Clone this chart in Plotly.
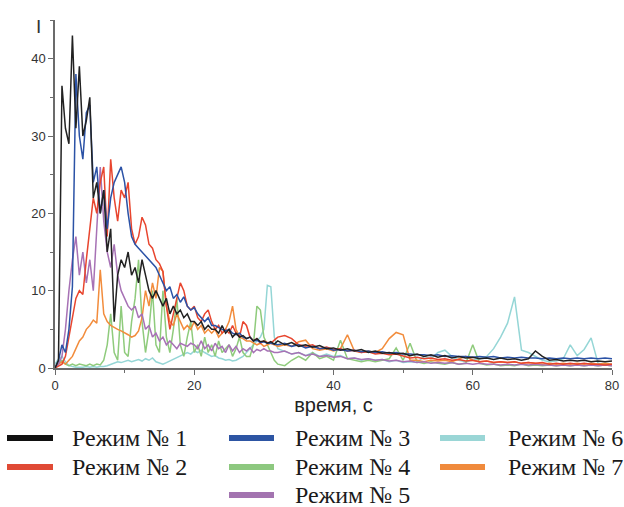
import plotly.graph_objects as go

# time grid: 0..32 s every 0.5 s, then 33..80 s every 1 s
TIME = [i * 0.5 for i in range(65)] + list(range(33, 81))

NAMES = ["Режим № 1", "Режим № 2", "Режим № 3", "Режим № 4",
         "Режим № 5", "Режим № 6", "Режим № 7"]

MODE1 = [0, 1, 36.5, 31, 29, 43, 31, 39, 30, 32,
         35, 22, 24, 20, 23, 15, 18, 6, 12, 14,
         13, 15, 12, 13, 11, 14, 12, 10, 9, 10,
         9, 8, 9, 7, 8, 7, 7.5, 6.5, 7, 6,
         6, 5.5, 6, 5, 5.5, 5, 5, 4.5, 5.5, 4.5,
         5, 4, 4.5, 4, 4.2, 3.8, 4, 3.5, 3.8, 3.4,
         3.5, 3.2, 3.4, 3.1, 3.5,
         3, 3.3, 2.8, 3, 2.7, 2.9, 2.5, 2.6, 2.3, 2.5,
         2.2, 2.4, 2, 2.2, 1.9, 2, 1.8, 1.9, 1.6, 1.8,
         1.5, 1.7, 1.4, 1.6, 1.3, 1.5, 1.3, 1.4, 1.2, 1.3,
         1.1, 1.3, 1.1, 1.2, 1, 1.2, 2.2, 1.5, 1, 1.1,
         0.9, 1, 0.9, 1, 0.8, 0.9, 0.8, 0.9]

MODE2 = [0, 0.3, 0.5, 1.5, 4, 7, 9, 10, 9.5, 14,
         18, 22, 20, 24, 26, 17, 27, 22, 19, 23,
         22, 24, 18, 16, 17, 19.5, 18.5, 16, 15.5, 14,
         13.5, 12.5, 8, 5, 7, 9, 11, 10, 8, 7.5,
         8, 6.5, 6, 7, 7.5, 6, 5, 5.5, 4.5, 5,
         4.5, 5.5, 4.5, 4, 6, 5.5, 4, 3.5, 3.8, 3.2,
         3.5, 3.3, 3.2, 3.6, 4,
         4.2, 3.8, 3, 2.8, 3, 2.5, 2.7, 2.4, 2.5, 2.2,
         2.3, 2, 2.1, 1.8, 1.9, 1.7, 1.8, 1.5, 1.3, 1.4,
         1.2, 1.3, 1.1, 1.2, 1, 1.1, 0.9, 1, 0.8, 0.9,
         0.7, 0.8, 0.7, 0.8, 0.6, 0.7, 0.6, 0.7, 0.5, 0.6,
         0.5, 0.6, 0.5, 0.6, 0.5, 0.5, 0.4, 0.5]

MODE3 = [0, 1, 3, 2, 5, 10.5, 38, 30, 27, 33,
         34, 24, 26, 20, 23, 18, 22, 24, 25, 26,
         24, 20, 17, 16, 15.5, 15, 14.5, 14, 13.5, 13,
         12, 11, 10, 10.5, 9, 9.5, 8.5, 9.2, 8, 7.5,
         7.8, 7, 6.5, 6, 6.5, 5.5, 5.5, 5.2, 5, 4.8,
         5, 4.5, 4.3, 4.5, 4, 3.8, 4, 3.5, 3.6, 3.3,
         3.4, 3.2, 3.2, 3.1, 3,
         3.2, 2.8, 3, 2.6, 2.8, 2.5, 2.6, 2.3, 2.4, 2.2,
         2.3, 2.1, 2.2, 2, 2.1, 1.9, 2, 1.8, 1.8, 1.7,
         1.7, 1.6, 1.7, 1.5, 1.6, 1.5, 1.5, 1.4, 1.5, 1.4,
         1.5, 1.3, 1.4, 1.3, 1.4, 1.3, 1.3, 1.2, 1.3, 1.2,
         1.3, 1.2, 1.3, 1.2, 1.3, 1.2, 1.3, 1.2]

MODE4 = [0, 0.5, 1, 0.5, 0.3, 0.5, 0.3, 0.5, 0.4, 0.3,
         0.5, 0.3, 0.5, 0.4, 1, 3, 7, 2, 1, 8,
         2, 1.5, 6, 9, 14, 6, 2, 5, 10, 3,
         2, 10, 4, 2, 5, 9, 3, 1.5, 4, 6,
         2, 3, 1.5, 4, 2, 3, 1.5, 3.5, 2, 2.5,
         3, 1.5, 2.5, 4, 2, 1.5, 1.5, 3, 8, 7.5,
         4, 3, 2, 1, 0.5,
         0.3, 1, 1.5, 1, 2, 1.2, 1.5, 1, 3.6, 1.2,
         1, 0.8, 1, 0.8, 1, 1.2, 2.6, 1, 3.2, 0.8,
         0.6, 0.8, 0.6, 0.5, 0.7, 0.5, 0.6, 3, 0.6, 0.4,
         0.5, 0.3, 0.4, 0.3, 0.5, 0.3, 0.4, 0.3, 0.4, 0.3,
         0.4, 0.3, 0.4, 0.3, 0.4, 0.3, 0.4, 0.3]

MODE5 = [0, 0.5, 1.5, 5, 10, 14, 17, 12, 15, 11,
         14, 10, 18, 26, 19, 15, 13, 16, 12, 10,
         9, 8, 7.5, 8, 6.5, 7, 5, 5.5, 4, 4.5,
         3.5, 4, 3, 3.5, 3, 2.5, 3.2, 3, 2.8, 3.2,
         3, 2.5, 3.5, 2.5, 3, 2.2, 3.2, 2.5, 2.8, 2,
         3, 2.2, 2.8, 2, 2.5, 2.2, 2.6, 2, 2.4, 2.2,
         2.5, 2.2, 2.2, 2, 2,
         2.2, 1.8, 2, 1.6, 1.8, 1.5, 1.6, 1.4, 1.5, 1.2,
         1.3, 1.1, 1.2, 1, 1.1, 0.9, 1, 0.8, 0.9, 0.7,
         0.8, 0.6, 0.7, 0.6, 0.7, 0.5, 0.6, 0.5, 0.6, 0.5,
         0.5, 0.4, 0.5, 0.4, 0.5, 0.4, 0.5, 0.4, 0.4, 0.3,
         0.4, 0.3, 0.4, 0.3, 0.4, 0.3, 0.4, 0.3]

MODE6 = [0.5, 1.2, 1.5, 0.8, 0.3, 0.2, 0.1, 0.1, 0.1, 0.2,
         0.1, 0.2, 0.1, 0.2, 0.2, 0.3, 0.5, 0.6, 0.8, 0.7,
         0.9, 1, 0.8, 1, 1.1, 0.9, 1.2, 1, 1.3, 0.8,
         0.6, 0.5, 0.7, 0.9, 1.1, 1.3, 1.5, 1.8, 2, 1.8,
         2.2, 2, 2.3, 2, 1.8, 1.5, 1.6, 1.3, 1.2, 1,
         1.1, 0.9, 1, 1.2, 1.5, 2, 2.5, 3, 3.5, 4,
         5, 10.7, 10.5, 4, 2.5,
         2.2, 1.8, 2, 1.6, 2, 1.5, 1.8, 1.5, 1.6, 1.2,
         1.3, 1, 1.2, 1, 1.1, 0.8, 1, 0.7, 0.8, 0.7,
         1.5, 1.2, 2, 2.3, 1.5, 1, 0.8, 1, 1.2, 1.5,
         2.5, 4, 5.8, 9.2, 2.3, 2, 1.5, 1, 0.8, 0.9,
         1.2, 3, 1.6, 2.4, 3.9, 0.6, 0.5, 0.5]

MODE7 = [0, 0.5, 0.8, 0.5, 1, 1.5, 2.5, 3.5, 4, 5,
         5.5, 6.2, 5.8, 12.7, 7, 6, 5.5, 5.2, 5, 4.8,
         4.6, 4.3, 4, 4.2, 4.8, 6.5, 10, 8, 11, 9,
         13, 12.5, 8, 6, 5.5, 7, 6, 5, 5.5, 5,
         6, 5, 5.5, 4.5, 5, 4.5, 5, 4, 4.5, 5,
         6, 8, 5, 4, 3.8, 3.5, 3.5, 3.2, 3, 3.2,
         2.8, 3, 3.2, 3, 2.8,
         3, 2.8, 3.4, 3.6, 2.5, 2.3, 2.5, 2.2, 2.5, 4.3,
         2.2, 2, 2.2, 2, 2.5, 3.8, 4.6, 4.3, 1, 1,
         0.8, 1, 0.9, 1, 0.8, 1.2, 1.5, 1, 0.8, 0.9,
         0.7, 0.8, 0.7, 0.8, 0.6, 0.7, 0.6, 0.5, 0.6, 0.5,
         0.6, 0.5, 0.6, 0.5, 0.6, 0.5, 0.6, 0.5]

SERIES = [MODE1, MODE2, MODE3, MODE4, MODE5, MODE6, MODE7]
COLORS = ["#222222", "#e8452e", "#2b52a6", "#8fcb7c", "#a772b5", "#95d6d6", "#f28c3c"]
SWATCH = ["#111111", "#e04a35", "#2d55a3", "#8dc87f", "#a374b0", "#9ad6d6", "#f08a3c"]

# legend layout: (column, row) of each mode
LEG_POS = [(0, 0), (0, 1), (1, 0), (1, 1), (1, 2), (2, 0), (2, 1)]

# plot-area geometry in pixels (for placing the hand-made legend)
W, H = 624, 507
ML, MR, MT, MB = 55, 12, 20, 139
PW, PH = W - ML - MR, H - MT - MB

SERIF = "Liberation Serif"
SANS = "Liberation Sans"


def px_x(px):
    return (px - ML) / PW


def px_y(py):
    return (H - MB - py) / PH


fig = go.Figure()

# draw order: later modes underneath early ones
for i in [5, 3, 6, 4, 1, 2, 0]:
    fig.add_trace(go.Scatter(
        x=TIME, y=SERIES[i], mode="lines", name=NAMES[i],
        line=dict(color=COLORS[i], width=1.5), showlegend=False))

axis_common = dict(
    showline=True, linecolor="#6b6b6b", linewidth=1.5,
    ticks="outside", ticklen=5, tickwidth=1.3, tickcolor="#6b6b6b",
    showgrid=False, zeroline=False, automargin=False,
    tickfont=dict(family=SANS, size=13, color="#333"),
)

fig.update_xaxes(range=[0, 80], tickvals=[0, 20, 40, 60, 80],
                 minor=dict(tickvals=[10, 30, 50, 70], ticks="outside", ticklen=3,
                            tickcolor="#6b6b6b", tickwidth=1.3),
                 title=dict(text="время, с", standoff=6,
                            font=dict(family=SANS, size=20, color="#222")),
                 **axis_common)
fig.update_yaxes(range=[0, 45], tickvals=[0, 10, 20, 30, 40],
                 minor=dict(tickvals=[5, 15, 25, 35, 45], ticks="outside", ticklen=3,
                            tickcolor="#6b6b6b", tickwidth=1.3),
                 **axis_common)

COL_X = [(7, 53, 70), (229, 274, 293), (440, 485, 506)]
ROW_Y = [438, 467, 495]

shapes = []
annotations = [dict(text="I", xref="paper", yref="paper", x=px_x(38), y=px_y(26),
                    xanchor="center", yanchor="middle", showarrow=False,
                    font=dict(family=SANS, size=19, color="#333"))]
for i, (c, r) in enumerate(LEG_POS):
    x0, x1, xt = COL_X[c]
    y = ROW_Y[r]
    shapes.append(dict(type="line", xref="paper", yref="paper",
                       x0=px_x(x0), x1=px_x(x1), y0=px_y(y), y1=px_y(y),
                       line=dict(color=SWATCH[i], width=6)))
    annotations.append(dict(text=NAMES[i], xref="paper", yref="paper",
                            x=px_x(xt), y=px_y(y), xanchor="left", yanchor="middle",
                            showarrow=False,
                            font=dict(family=SERIF, size=24, color="#1a1a1a")))

fig.update_layout(
    width=W, height=H,
    margin=dict(l=ML, r=MR, t=MT, b=MB),
    paper_bgcolor="white", plot_bgcolor="white",
    showlegend=False,
    shapes=shapes,
    annotations=annotations,
)

fig.write_html("out.html")
